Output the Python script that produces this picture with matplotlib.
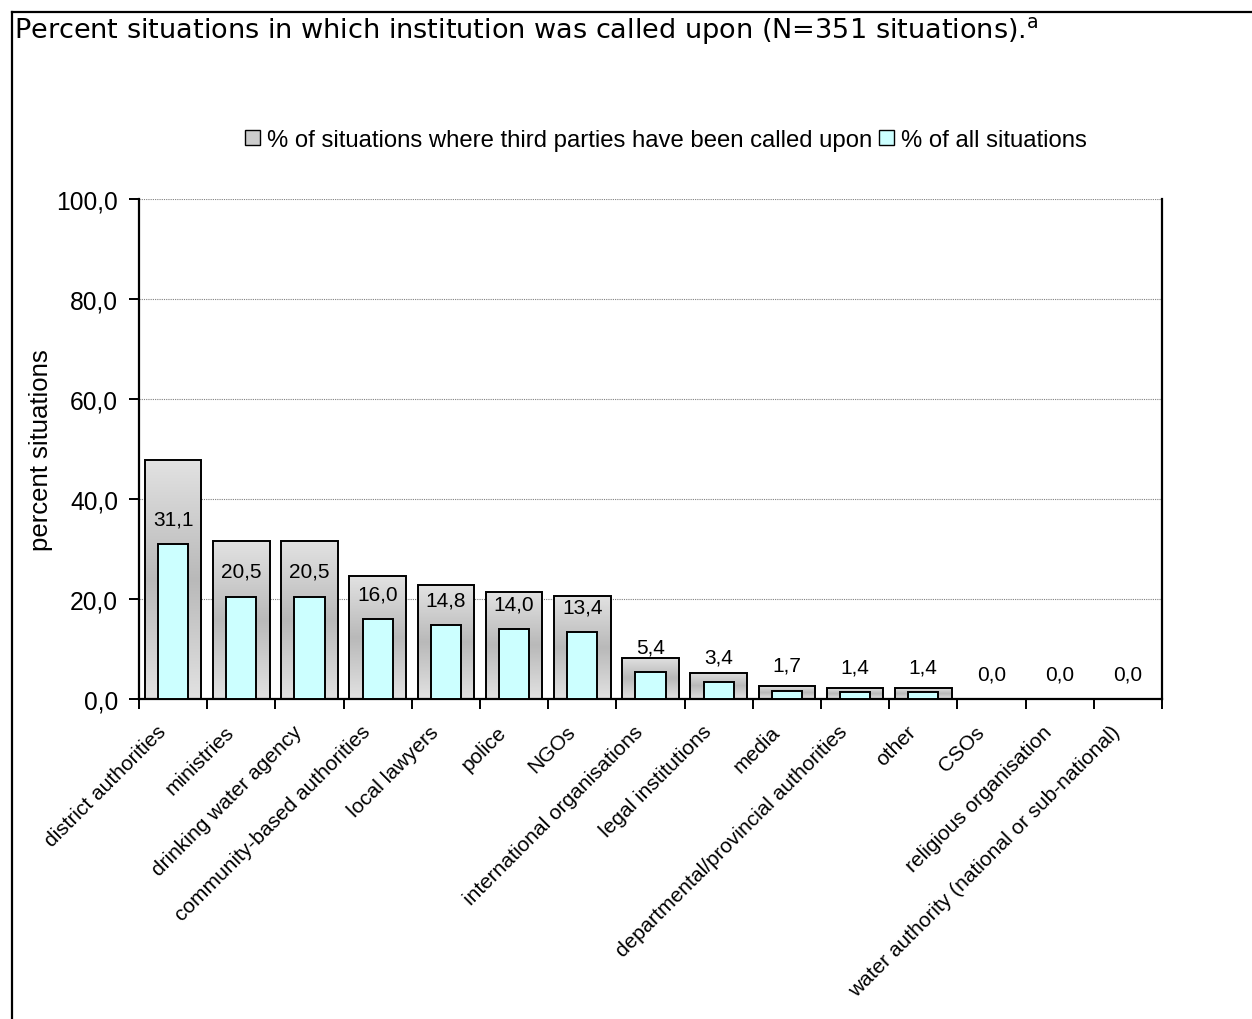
import numpy as np
import matplotlib
matplotlib.use('Agg')
import matplotlib.pyplot as plt
import matplotlib.transforms as mtransforms
from matplotlib.patches import Patch
from matplotlib.lines import Line2D
from matplotlib.colors import LinearSegmentedColormap

plt.rcParams['font.family'] = ['Liberation Sans', 'DejaVu Sans']

# categories and the two series (percent)
categories = ['district authorities', 'ministries', 'drinking water agency',
              'community-based authorities', 'local lawyers', 'police', 'NGOs',
              'international organisations', 'legal institutions', 'media',
              'departmental/provincial authorities', 'other', 'CSOs',
              'religious organisation', 'water authority (national or sub-national)']
third_party = [47.8, 31.6, 31.6, 24.6, 22.8, 21.5, 20.6, 8.3, 5.3, 2.6, 2.2, 2.2, 0.0, 0.0, 0.0]
all_situations = [31.1, 20.5, 20.5, 16.0, 14.8, 14.0, 13.4, 5.4, 3.4, 1.7, 1.4, 1.4, 0.0, 0.0, 0.0]

legend_labels = ['% of situations where third parties have been called upon', '% of all situations']
yticks = [0, 20, 40, 60, 80, 100]

fig = plt.figure(figsize=(12.52, 10.20), dpi=100)
ax = fig.add_axes([139 / 1252, 1 - 700 / 1020, 1023 / 1252, 500 / 1020])

x = np.arange(len(categories))

# gray bars with a vertical light-dark-light gradient
gray_cmap = LinearSegmentedColormap.from_list('g', ['#e2e2e2', '#b9b9b9', '#e2e2e2'])
grad = np.linspace(0, 1, 256).reshape(-1, 1)
bars = ax.bar(x, third_party, width=0.83, facecolor='none', edgecolor='black',
              linewidth=1.4, zorder=3)
for b in bars:
    h = b.get_height()
    if h <= 0:
        continue
    im = ax.imshow(grad, cmap=gray_cmap, aspect='auto', zorder=2,
                   extent=(b.get_x(), b.get_x() + b.get_width(), 0, h))
    im.set_clip_path(b)

ax.bar(x, all_situations, width=0.44, color='#CCFFFF', edgecolor='black',
       linewidth=1.4, zorder=4)

for xi, v in zip(x, all_situations):
    ax.annotate(f'{v:.1f}'.replace('.', ','), (xi, v), xytext=(0, 18),
                textcoords='offset points', ha='center', va='center',
                fontsize=15, zorder=5)

ax.set_xlim(-0.5, len(categories) - 0.5)
ax.set_ylim(0, 100)

# ticks at category boundaries, labels at centers
ax.set_xticks(np.arange(-0.5, len(categories), 1.0))
ax.set_xticklabels([])
ax.set_xticks(x, minor=True)
ax.set_xticklabels(categories, minor=True, rotation=45, ha='right',
                   rotation_mode='anchor', fontsize=15)
ax.tick_params(axis='x', which='major', length=7, width=1.4, direction='out')
ax.tick_params(axis='x', which='minor', length=0, pad=12)
shift = mtransforms.ScaledTranslation(-17 / 100, -6 / 100, fig.dpi_scale_trans)
for lbl in ax.get_xticklabels(minor=True):
    lbl.set_transform(lbl.get_transform() + shift)

ax.set_yticks(yticks)
ax.set_yticklabels([f'{t:.1f}'.replace('.', ',') for t in yticks], fontsize=17.7)
ax.tick_params(axis='y', length=7, width=1.4, pad=8)

ax.yaxis.grid(True, linestyle=(0, (1, 1)), color='#808080', linewidth=0.8, zorder=0)
ax.set_axisbelow(True)

ax.spines['top'].set_visible(False)
for s in ['left', 'right', 'bottom']:
    ax.spines[s].set_linewidth(1.6)

ax.set_ylabel('percent situations', fontsize=18.5)
ax.yaxis.set_label_coords(-0.084, 0.5)

# legend
handles = [Patch(facecolor='#cccccc', edgecolor='black', linewidth=1.0),
           Patch(facecolor='#CCFFFF', edgecolor='black', linewidth=1.0)]
fig.legend(handles, legend_labels, loc='center', bbox_to_anchor=(666 / 1252, 1 - 141 / 1020),
           ncol=2, frameon=False, fontsize=17.2, handlelength=0.6, handleheight=0.6,
           handletextpad=0.3, columnspacing=0.3, borderpad=0)

# title
fig.text(14 / 1252, 1 - 31 / 1020,
         r'Percent situations in which institution was called upon (N=351 situations).$^\mathrm{a}$',
         family='DejaVu Sans', fontsize=19.5, ha='left', va='center')

# outer frame (top and left)
fig.add_artist(Line2D([12 / 1252, 12 / 1252], [0, 1 - 13 / 1020], transform=fig.transFigure,
                      color='black', linewidth=1.6))
fig.add_artist(Line2D([12 / 1252, 1], [1 - 13 / 1020, 1 - 13 / 1020], transform=fig.transFigure,
                      color='black', linewidth=1.6))

fig.savefig('out.png', dpi=100)
